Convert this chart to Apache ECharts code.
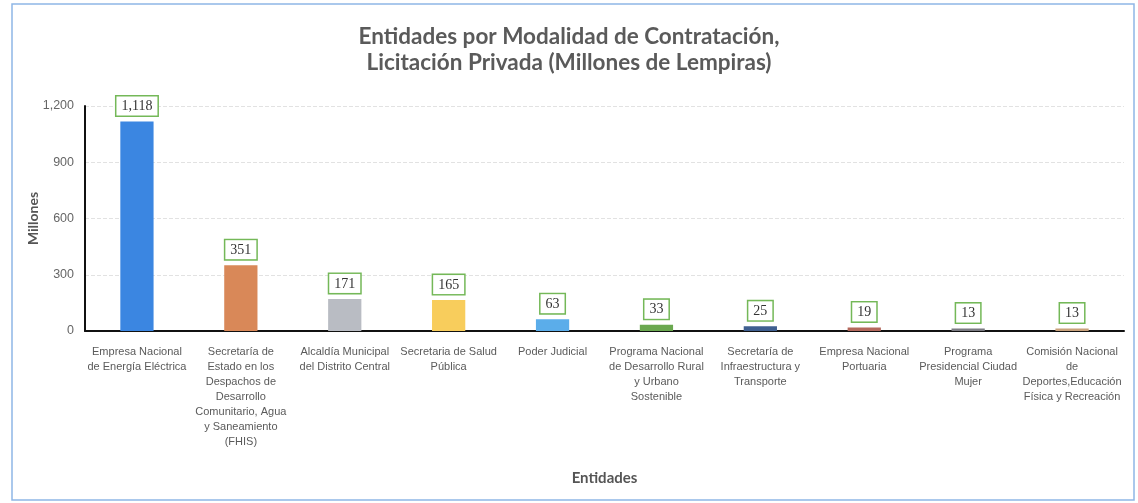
<!DOCTYPE html>
<html><head><meta charset="utf-8">
<script src="https://cdn.jsdelivr.net/npm/echarts@6/dist/echarts.min.js"></script>
<style>html,body{margin:0;padding:0;background:#fff}#c{width:1138px;height:503px}</style>
</head><body><div id="c"></div>
<script>
const categories = [
  "Empresa Nacional\nde Energía Eléctrica",
  "Secretaría de\nEstado en los\nDespachos de\nDesarrollo\nComunitario, Agua\ny Saneamiento\n(FHIS)",
  "Alcaldía Municipal\ndel Distrito Central",
  "Secretaria de Salud\nPública",
  "Poder Judicial",
  "Programa Nacional\nde Desarrollo Rural\ny Urbano\nSostenible",
  "Secretaría de\nInfraestructura y\nTransporte",
  "Empresa Nacional\nPortuaria",
  "Programa\nPresidencial Ciudad\nMujer",
  "Comisión Nacional\nde\nDeportes,Educación\nFísica y Recreación"
];
const values = [1118, 351, 171, 165, 63, 33, 25, 19, 13, 13];
const barColors = ["#3b86e1","#d98858","#b9bcc3","#f8cd5c","#5badea","#6aa84f","#3f5f90","#b4685c","#7b7b82","#c9a27c"];
const titleLines = ["Entidades por Modalidad de Contratación,", "Licitación Privada (Millones de Lempiras)"];
const yAxisName = "Millones";
const xAxisName = "Entidades";

const chart = echarts.init(document.getElementById('c'), null, {renderer:'canvas'});
chart.setOption({
  backgroundColor:'#fff',
  animation:false,
  graphic:[{type:'rect', shape:{x:12,y:4,width:1122,height:496}, style:{fill:'none', stroke:'#8fb6e6', lineWidth:1.5}, silent:true}],
  title:{
    text: titleLines.join('\n'),
    left:'center', top:19,
    textStyle:{fontFamily:'Lato', fontWeight:'bold', fontSize:22.5, color:'#5a5a5a', lineHeight:26}
  },
  grid:{left:85, right:14, top:106, bottom:172, containLabel:false},
  xAxis:{
    type:'category', data:categories,
    name:xAxisName, nameLocation:'middle', nameGap:140, nameMoveOverlap:false,
    nameTextStyle:{fontFamily:'Lato', fontWeight:'bold', fontSize:15, color:'#555'},
    axisLine:{lineStyle:{color:'#111', width:2}},
    axisTick:{show:false},
    axisLabel:{interval:0, fontFamily:'Liberation Sans', fontSize:11, color:'#5a5a5a', lineHeight:15, margin:13}
  },
  yAxis:{
    type:'value', min:0, max:1200, interval:300,
    name:yAxisName, nameLocation:'middle', nameGap:45, nameRotate:90, nameMoveOverlap:false,
    nameTextStyle:{fontFamily:'Lato', fontWeight:'bold', fontSize:14, color:'#555'},
    axisLine:{show:true, lineStyle:{color:'#111', width:2}},
    axisTick:{show:false},
    axisLabel:{fontFamily:'Liberation Sans', fontSize:12.5, color:'#666', margin:11,
      formatter:v=>v.toLocaleString('en-US')},
    splitLine:{lineStyle:{color:'#e2e2e2', type:'dashed'}}
  },
  series:[{
    type:'bar', barWidth:'32%',
    data: values.map((v,i)=>({value:v, itemStyle:{color:barColors[i]}})),
    label:{show:true, position:'top', distance:6,
      formatter:p=>p.value.toLocaleString('en-US'),
      fontFamily:'Liberation Serif', fontSize:14, color:'#333',
      backgroundColor:'#fff', borderColor:'#74b858', borderWidth:1.5,
      padding:[3,5,2,5]}
  }]
});
</script></body></html>
